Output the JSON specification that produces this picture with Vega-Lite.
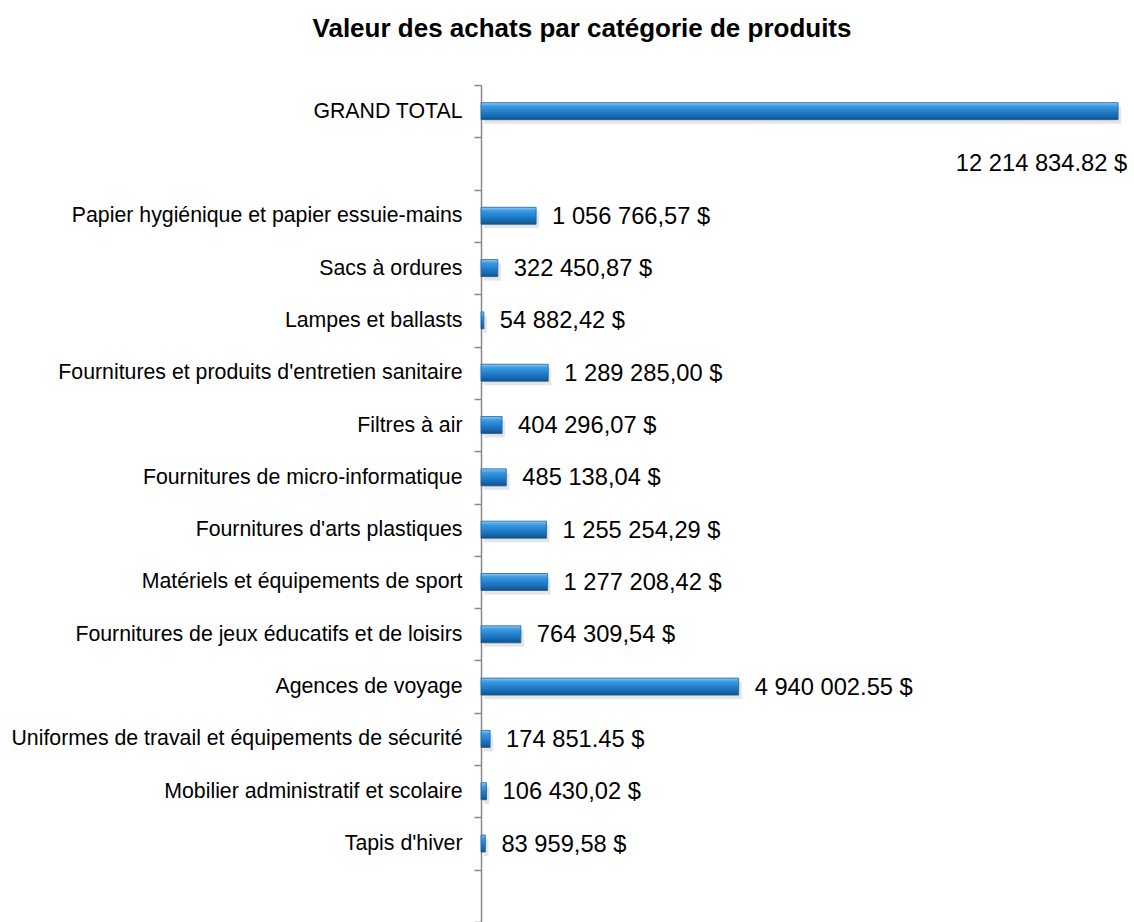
{
  "$schema": "https://vega.github.io/schema/vega-lite/v6.json",
  "autosize": "none",
  "padding": {"left": 481, "top": 85, "right": 13, "bottom": 0},
  "width": 640,
  "height": 837,
  "background": "white",
  "title": {
    "text": "Valeur des achats par catégorie de produits",
    "anchor": "middle",
    "frame": "group",
    "dx": -219,
    "offset": 32,
    "font": "Liberation Sans",
    "fontSize": 26,
    "fontWeight": "bold",
    "color": "#000000"
  },
  "config": {"view": {"stroke": null}},
  "data": {
    "values": [
      {"cat": "GRAND TOTAL", "value": 12214834.82, "label": "12 214 834.82 $"},
      {"cat": "Papier hygiénique et papier essuie-mains", "value": 1056766.57, "label": "1 056 766,57 $"},
      {"cat": "Sacs à ordures", "value": 322450.87, "label": "322 450,87 $"},
      {"cat": "Lampes et ballasts", "value": 54882.42, "label": "54 882,42 $"},
      {"cat": "Fournitures et produits d'entretien sanitaire", "value": 1289285.00, "label": "1 289 285,00 $"},
      {"cat": "Filtres à air", "value": 404296.07, "label": "404 296,07 $"},
      {"cat": "Fournitures de micro-informatique", "value": 485138.04, "label": "485 138,04 $"},
      {"cat": "Fournitures d'arts plastiques", "value": 1255254.29, "label": "1 255 254,29 $"},
      {"cat": "Matériels et équipements de sport", "value": 1277208.42, "label": "1 277 208,42 $"},
      {"cat": "Fournitures de jeux éducatifs et de loisirs", "value": 764309.54, "label": "764 309,54 $"},
      {"cat": "Agences de voyage", "value": 4940002.55, "label": "4 940 002.55 $"},
      {"cat": "Uniformes de travail et équipements de sécurité", "value": 174851.45, "label": "174 851.45 $"},
      {"cat": "Mobilier administratif et scolaire", "value": 106430.02, "label": "106 430,02 $"},
      {"cat": "Tapis d'hiver", "value": 83959.58, "label": "83 959,58 $"}
    ]
  },
  "encoding": {
    "y": {
      "field": "cat",
      "type": "nominal",
      "scale": {
        "domain": ["GRAND TOTAL", " ", "Papier hygiénique et papier essuie-mains", "Sacs à ordures", "Lampes et ballasts", "Fournitures et produits d'entretien sanitaire", "Filtres à air", "Fournitures de micro-informatique", "Fournitures d'arts plastiques", "Matériels et équipements de sport", "Fournitures de jeux éducatifs et de loisirs", "Agences de voyage", "Uniformes de travail et équipements de sécurité", "Mobilier administratif et scolaire", "Tapis d'hiver", "  "],
        "paddingInner": 0,
        "paddingOuter": 0
      },
      "axis": {
        "title": null,
        "tickBand": "extent",
        "tickSize": 7,
        "tickColor": "#888888",
        "tickWidth": 1.5,
        "domainColor": "#888888",
        "domainWidth": 1.5,
        "labelFont": "Liberation Sans",
        "labelFontSize": 21.3,
        "labelColor": "#000000",
        "labelPadding": 12,
        "labelLimit": 700,
        "grid": false
      }
    },
    "x": {
      "field": "value",
      "type": "quantitative",
      "scale": {"domain": [0, 12270000], "nice": false},
      "axis": null
    }
  },
  "layer": [
    {
      "mark": {"type": "bar", "size": 17, "color": "#000000", "opacity": 0.1, "xOffset": 3, "yOffset": 4}
    },
    {
      "mark": {
        "type": "bar",
        "size": 17,
        "stroke": "#1a5f9e",
        "strokeWidth": 0.8,
        "color": {
          "gradient": "linear",
          "x1": 0, "y1": 0, "x2": 0, "y2": 1,
          "stops": [
            {"offset": 0, "color": "#8cccf5"},
            {"offset": 0.2, "color": "#3d9be2"},
            {"offset": 0.55, "color": "#1f7dcc"},
            {"offset": 0.8, "color": "#1868ae"},
            {"offset": 1, "color": "#124f86"}
          ]
        }
      }
    },
    {
      "transform": [{"filter": "datum.cat !== 'GRAND TOTAL'"}],
      "mark": {"type": "text", "align": "left", "baseline": "middle", "dx": 16, "dy": 1, "font": "Liberation Sans", "fontSize": 23.7, "color": "#000000"},
      "encoding": {"text": {"field": "label"}}
    },
    {
      "transform": [{"filter": "datum.cat === 'GRAND TOTAL'"}],
      "mark": {"type": "text", "align": "right", "baseline": "middle", "dx": 9, "dy": 53, "font": "Liberation Sans", "fontSize": 23.7, "color": "#000000"},
      "encoding": {"text": {"field": "label"}}
    }
  ]
}
